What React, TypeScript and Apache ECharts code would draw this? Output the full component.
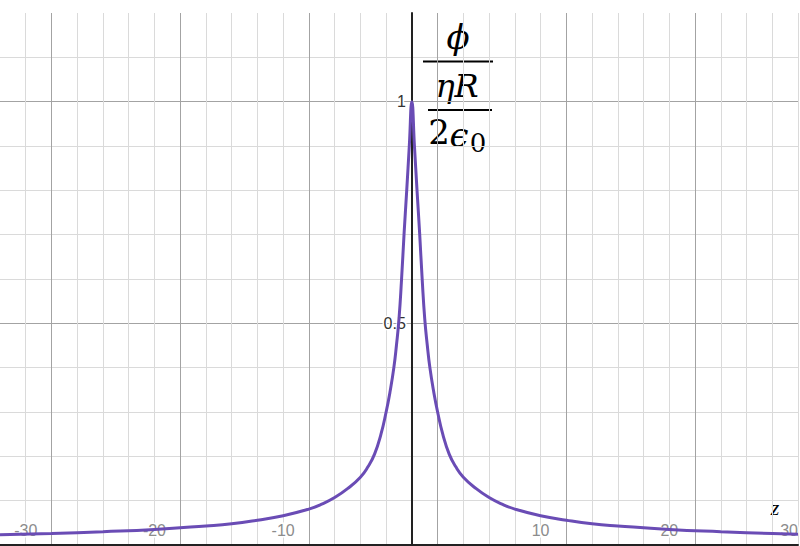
import React, { useEffect, useRef } from 'react';
import * as echarts from 'echarts';

// z positions and phi / (eta R / 2 eps0) values
const zValues = [
  -32, -28, -24, -20, -16, -14, -12, -10, -8, -7, -6, -5, -4, -3.4, -2.9, -2.4, -2, -1.7, -1.4, -1.2, -1, -0.8, -0.6, -0.4, -0.2,
  0, 0.2, 0.4, 0.6, 0.8, 1, 1.2, 1.4, 1.7, 2, 2.4, 2.9, 3.4, 4, 5, 6, 7, 8, 10, 12, 14, 16, 20, 24, 28, 30,
];
const phiValues = [
  0.023, 0.026, 0.03, 0.035, 0.043, 0.048, 0.056, 0.066, 0.081, 0.092, 0.107, 0.127, 0.153, 0.177, 0.205, 0.25, 0.3, 0.345, 0.4, 0.45, 0.51, 0.6, 0.705, 0.8, 0.9,
  1, 0.9, 0.8, 0.705, 0.6, 0.51, 0.45, 0.4, 0.345, 0.3, 0.25, 0.205, 0.177, 0.153, 0.127, 0.107, 0.092, 0.081, 0.066, 0.056, 0.048, 0.043, 0.035, 0.03, 0.026, 0.024,
];
const xTickLabels = [-30, -20, -10, 10, 20, 30];
const yTickLabels = [0.5, 1];

const X_MIN = -32;
const X_MAX = 30;
const MINOR = '#dadada';
const MAJOR = '#a3a3a3';
const AXIS = '#222';
const CURVE = '#6a4cb5';

const App: React.FC = () => {
  const chartRef = useRef<HTMLDivElement | null>(null);

  useEffect(() => {
    document.body.style.margin = '0';
    const chart = echarts.init(chartRef.current!, undefined, { renderer: 'svg' });

    const gridLeft = 0;
    const gridRight = 2;
    const plotWidth = 800 - gridLeft - gridRight;
    // move the y axis (line + labels) to z = 0
    const yOffset = -(plotWidth * (0 - X_MIN)) / (X_MAX - X_MIN);

    const serif = "'DejaVu Serif', 'Liberation Serif', serif";
    const option = {
      animation: false,
      backgroundColor: '#fff',
      grid: { left: gridLeft, right: gridRight, top: 13, bottom: 1, outerBoundsMode: 'none', containLabel: false },
      xAxis: {
        type: 'value',
        min: X_MIN,
        max: X_MAX,
        interval: 2,
        axisLine: { onZero: false, lineStyle: { color: AXIS, width: 2 } },
        axisTick: { show: false },
        axisLabel: {
          inside: true,
          interval: 0,
          margin: 7,
          color: '#8c8c8c',
          fontSize: 16,
          fontFamily: 'Arial, Liberation Sans, sans-serif',
          alignMaxLabel: 'right',
          textBorderColor: '#fff',
          textBorderWidth: 3,
          formatter: (v: number) => (xTickLabels.some((t) => Math.abs(t - v) < 1e-6) ? String(v) : ''),
        },
        splitLine: {
          show: true,
          showMinLine: false,
          lineStyle: { color: [MINOR, MAJOR, MINOR, MINOR, MINOR], width: 1 },
        },
      },
      yAxis: {
        type: 'value',
        min: 0,
        max: 1.2,
        interval: 0.1,
        offset: yOffset,
        axisLine: { show: true, onZero: false, lineStyle: { color: AXIS, width: 2 } },
        axisTick: { show: false },
        axisLabel: {
          margin: 6,
          color: '#333',
          fontSize: 16,
          fontFamily: 'Arial, Liberation Sans, sans-serif',
          textBorderColor: '#fff',
          textBorderWidth: 3,
          formatter: (v: number) => {
            const t = yTickLabels.find((l) => Math.abs(l - v) < 1e-6);
            return t === undefined ? '' : String(t);
          },
        },
        splitLine: {
          show: true,
          showMaxLine: false,
          lineStyle: { color: [MAJOR, MINOR, MINOR, MINOR, MINOR], width: 1 },
        },
      },
      series: [
        {
          type: 'line',
          data: zValues.map((z, i) => [z, phiValues[i]]),
          showSymbol: false,
          smooth: 0.5,
          lineStyle: { color: CURVE, width: 3 },
          z: 5,
        },
      ],
      graphic: [
        {
          type: 'text',
          x: 458,
          y: 37,
          style: { text: 'ϕ', font: `italic 34px ${serif}`, fill: '#000', align: 'center', verticalAlign: 'middle' },
        },
        { type: 'line', shape: { x1: 423, y1: 61.5, x2: 493, y2: 61.5 }, style: { stroke: '#000', lineWidth: 2 } },
        {
          type: 'text',
          x: 457,
          y: 86,
          style: { text: 'ηR', font: `italic 32px ${serif}`, fill: '#000', align: 'center', verticalAlign: 'middle' },
        },
        { type: 'line', shape: { x1: 428, y1: 110, x2: 492, y2: 110 }, style: { stroke: '#000', lineWidth: 2 } },
        {
          type: 'text',
          x: 439,
          y: 132,
          style: { text: '2', font: `34px ${serif}`, fill: '#000', align: 'center', verticalAlign: 'middle' },
        },
        {
          type: 'text',
          x: 459,
          y: 135,
          style: { text: 'ϵ', font: `italic 34px ${serif}`, fill: '#000', align: 'center', verticalAlign: 'middle' },
        },
        {
          type: 'text',
          x: 478,
          y: 143,
          style: { text: '0', font: `26px ${serif}`, fill: '#000', align: 'center', verticalAlign: 'middle' },
        },
        {
          type: 'text',
          x: 775,
          y: 507,
          style: { text: 'z', font: `italic 22px 'Liberation Serif', serif`, fill: '#000', align: 'center', verticalAlign: 'middle' },
        },
      ],
    };

    chart.setOption(option);
    return () => {
      chart.dispose();
    };
  }, []);

  return <div ref={chartRef} style={{ width: '800px', height: '546px' }} />;
};

export default App;
